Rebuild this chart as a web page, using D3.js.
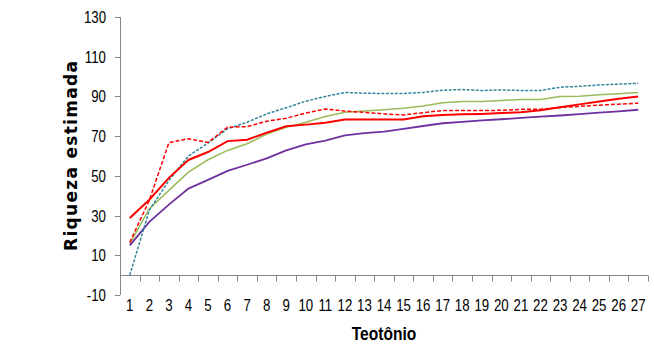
<!DOCTYPE html>
<html>
<head>
<meta charset="utf-8">
<script src="https://cdn.jsdelivr.net/npm/d3@7"></script>
<style>
  body { margin: 0; background: #fff; }
  .lbl { font-family: "Liberation Sans", Arial, sans-serif; font-size: 17px; fill: #000; }
</style>
</head>
<body>
<div id="chart"></div>
<script>
// Amostras (eixo x) e valores de riqueza estimada por estimador
const samples = d3.range(1, 28);
const yTicks = [-10, 10, 30, 50, 70, 90, 110, 130];

const redSolid = [28.8, 38, 49, 58, 62, 67.5, 68.2, 71.7, 75, 75.8, 76.7, 78.4, 78.4, 78.4, 78.4, 80, 80.6, 81, 81.2, 81.6, 82, 83, 84.6, 86, 87.5, 88.8, 90];
const redDashed = [16.5, 37.7, 66.7, 68.7, 66.8, 74.5, 74.8, 77.5, 79, 81.6, 83.7, 82.6, 82, 81.2, 80.7, 81.8, 82.9, 82.9, 82.9, 83, 83.5, 83.5, 84.4, 85, 85.6, 86.1, 86.6];
const blueDotted = [0, 32.7, 47.7, 60, 66.5, 73.7, 77, 81.2, 84.3, 87.6, 90, 92, 91.6, 91.5, 91.5, 92, 93.1, 93.5, 93, 93.3, 93, 93, 94.6, 95.1, 95.8, 96.2, 96.6];
const green = [15.8, 33.5, 42.7, 51.9, 58.1, 62.8, 66.2, 71, 74.5, 77, 79.9, 82, 82.6, 83.3, 84.1, 85.2, 86.8, 87.4, 87.4, 88, 88.4, 88.4, 90, 90.1, 90.8, 91.4, 92];
const purple = [15, 26.8, 35.5, 43.6, 48, 52.5, 55.6, 58.8, 62.8, 65.8, 67.8, 70.4, 71.5, 72.3, 73.7, 75.1, 76.5, 77.2, 77.9, 78.5, 79.2, 79.8, 80.4, 81.1, 81.8, 82.5, 83.3];

const width = 654, height = 354;
const axisColor = "#868686";
const narrow = 0.78; // texto estreito (sem fonte condensada instalada)

const svg = d3.select("#chart").append("svg")
    .attr("width", width)
    .attr("height", height);

const x = d3.scaleBand().domain(samples).range([120, 648]);
const y = d3.scaleLinear().domain([-10, 130]).range([295, 17]);

// Eixo y
svg.append("line")
    .attr("x1", 120.5).attr("x2", 120.5)
    .attr("y1", y(130)).attr("y2", y(-10))
    .attr("stroke", axisColor);

svg.selectAll(".ytick").data(yTicks).enter().append("line")
    .attr("x1", 115).attr("x2", 120)
    .attr("y1", d => Math.round(y(d)) + 0.5).attr("y2", d => Math.round(y(d)) + 0.5)
    .attr("stroke", axisColor);

svg.selectAll(".ylab").data(yTicks).enter().append("text")
    .attr("class", "lbl")
    .attr("transform", d => `translate(106,${y(d)}) scale(${narrow},1)`)
    .attr("dy", "0.35em")
    .attr("text-anchor", "end")
    .text(d => d);

// Eixo x (cruza em 0)
const y0 = Math.round(y(0)) + 0.5;
svg.append("line")
    .attr("x1", 120).attr("x2", 648)
    .attr("y1", y0).attr("y2", y0)
    .attr("stroke", axisColor);

svg.selectAll(".xtick").data(samples).enter().append("line")
    .attr("x1", d => Math.round(x(d) + x.bandwidth()) + 0.5)
    .attr("x2", d => Math.round(x(d) + x.bandwidth()) + 0.5)
    .attr("y1", y0).attr("y2", y0 + 6)
    .attr("stroke", axisColor);

svg.selectAll(".xlab").data(samples).enter().append("text")
    .attr("class", "lbl")
    .attr("transform", d => `translate(${x(d) + x.bandwidth() / 2},311) scale(${narrow},1)`)
    .attr("text-anchor", "middle")
    .text(d => d);

// Títulos dos eixos
svg.append("text")
    .attr("transform", `translate(384,340) scale(0.82,1)`)
    .attr("text-anchor", "middle")
    .style("font-family", '"Liberation Sans", Arial, sans-serif')
    .style("font-weight", "bold")
    .style("font-size", "19px")
    .text("Teotônio");

svg.append("text")
    .attr("transform", "translate(77,156) rotate(-90)")
    .attr("text-anchor", "middle")
    .attr("textLength", 190)
    .attr("lengthAdjust", "spacing")
    .style("font-family", '"DejaVu Sans", sans-serif')
    .style("font-weight", "bold")
    .style("font-size", "17px")
    .text("Riqueza estimada");

// Séries
const series = [
    { values: green, color: "#9bbb59", width: 1.5, dash: null },
    { values: purple, color: "#7030a0", width: 1.8, dash: null },
    { values: blueDotted, color: "#31859c", width: 1.5, dash: "3,1.5" },
    { values: redDashed, color: "#ff0000", width: 1.5, dash: "4,2" },
    { values: redSolid, color: "#ff0000", width: 2, dash: null }
];

const line = d3.line()
    .x((d, i) => x(samples[i]) + x.bandwidth() / 2)
    .y(d => y(d));

series.forEach(s => {
    svg.append("path")
        .datum(s.values)
        .attr("fill", "none")
        .attr("stroke", s.color)
        .attr("stroke-width", s.width)
        .attr("stroke-dasharray", s.dash)
        .attr("d", line);
});
</script>
</body>
</html>
